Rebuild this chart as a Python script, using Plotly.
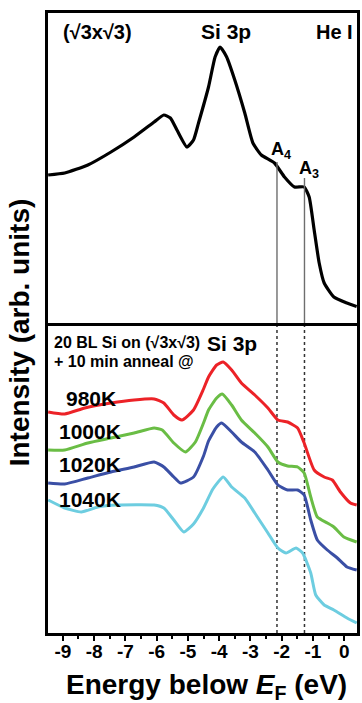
import plotly.graph_objects as go

# ---------------- data ----------------
# Top panel: clean (sqrt3 x sqrt3) spectrum, He I
top_E = [-9.47, -8.94, -8.20, -7.46, -6.72, -6.08, -5.77, -5.56, -5.35, -5.03,
         -4.82, -4.66, -4.34, -4.13, -3.97, -3.76, -3.50, -3.18, -2.92, -2.65,
         -2.23, -1.91, -1.59, -1.28, -1.12, -0.96, -0.80, -0.64, -0.33, 0.09, 0.40]
top_I = [14.8, 15.0, 15.8, 17.1, 18.6, 20.1, 20.8, 20.5, 19.3, 17.6,
         18.3, 20.0, 23.6, 26.6, 27.6, 26.6, 24.3, 21.0, 18.0, 16.8,
         16.0, 14.6, 13.6, 13.6, 12.6, 9.3, 6.0, 4.0, 2.6, 2.0, 1.65]

# Feature markers A4, A3
feat_names = ["A4", "A3"]
feat_E = [-2.15, -1.27]
feat_top = [16.1, 14.5]

# Bottom panel: 20 BL Si annealed at several temperatures
temps = ["980K", "1000K", "1020K", "1040K"]

E_980 = [-9.47, -8.94, -8.30, -7.46, -6.72, -6.08, -5.77, -5.45, -5.19, -4.82,
         -4.50, -4.34, -4.08, -3.87, -3.60, -3.29, -2.86, -2.44, -2.12, -1.81,
         -1.49, -1.28, -0.96, -0.64, -0.38, -0.12, 0.20, 0.40]
I_980 = [22.1, 21.9, 22.5, 23.0, 23.3, 23.4, 23.0, 21.8, 21.3, 22.3,
         24.4, 25.6, 26.8, 27.1, 26.3, 25.0, 23.8, 22.5, 21.3, 21.1,
         20.5, 19.0, 16.3, 15.6, 15.3, 14.1, 13.0, 12.8]

E_1000 = [-9.47, -8.94, -8.20, -7.46, -6.72, -6.08, -5.82, -5.45, -5.08, -4.76,
          -4.50, -4.34, -4.08, -3.90, -3.60, -3.29, -2.86, -2.44, -2.12, -1.81,
          -1.49, -1.28, -1.07, -0.86, -0.54, -0.33, -0.01, 0.40]
I_1000 = [18.3, 18.3, 19.0, 19.5, 20.0, 20.5, 20.3, 19.0, 18.1, 19.1,
          21.0, 22.3, 23.5, 23.9, 22.8, 21.3, 20.0, 18.6, 17.1, 16.7,
          16.6, 16.0, 13.6, 11.6, 11.0, 10.6, 9.6, 9.1]

E_1020 = [-9.47, -8.94, -8.20, -7.46, -6.72, -6.08, -5.77, -5.45, -5.24, -4.82,
          -4.50, -4.34, -4.08, -3.92, -3.60, -3.29, -2.86, -2.44, -2.12, -1.81,
          -1.49, -1.28, -1.07, -0.86, -0.54, -0.22, 0.09, 0.40]
I_1020 = [15.0, 14.9, 15.5, 16.1, 16.6, 17.1, 16.6, 15.6, 15.0, 15.6,
          17.7, 19.2, 20.6, 21.0, 20.1, 19.1, 18.1, 16.3, 14.8, 14.3,
          14.3, 13.8, 11.3, 9.3, 8.3, 7.5, 6.6, 6.3]

E_1040 = [-9.47, -8.94, -8.41, -7.88, -7.25, -6.08, -5.77, -5.45, -5.13, -4.82,
          -4.50, -4.20, -3.87, -3.60, -3.18, -2.86, -2.44, -2.12, -1.86,
          -1.54, -1.33, -1.07, -0.91, -0.64, -0.33, 0.09, 0.40]
I_1040 = [13.3, 12.5, 12.1, 12.6, 12.8, 12.8, 12.5, 11.3, 10.1, 10.9,
          12.5, 14.4, 15.6, 14.6, 13.5, 12.0, 10.0, 8.5, 8.0,
          8.5, 8.0, 6.0, 3.8, 2.8, 2.3, 1.5, 1.0]

x_ticks = [-9, -8, -7, -6, -5, -4, -3, -2, -1, 0]
x_tick_labels = ["-9", "-8", "-7", "-6", "-5", "-4", "-3", "-2", "-1", "0"]

# ---------------- styling ----------------
FONT = "Liberation Sans, Arial, Helvetica, sans-serif"
colors = ["#ec2227", "#6abd45", "#3a4fa5", "#6dcde0"]
W, H = 362, 703
ML, MR, MT, MB = 48, 2, 13, 70
PW, PH = W - ML - MR, H - MT - MB


def px(xp):
    return (xp - ML) / PW


def py(yp):
    return (H - MB - yp) / PH


fig = go.Figure()

# top spectrum
fig.add_trace(go.Scatter(x=top_E, y=top_I, mode="lines", xaxis="x2", yaxis="y2",
                         line=dict(color="black", width=3.2, shape="spline", smoothing=0.5),
                         showlegend=False, hoverinfo="skip"))
# feature lines in top panel
for e, t in zip(feat_E, feat_top):
    fig.add_trace(go.Scatter(x=[e, e], y=[t, 0], mode="lines", xaxis="x2", yaxis="y2",
                             line=dict(color="#6e6e6e", width=1.4),
                             showlegend=False, hoverinfo="skip"))
# dotted lines in bottom panel
for e in feat_E:
    fig.add_trace(go.Scatter(x=[e, e], y=[0, 31], mode="lines", xaxis="x", yaxis="y",
                             line=dict(color="#333333", width=1.5, dash="dot"),
                             showlegend=False, hoverinfo="skip"))

series = [(E_980, I_980), (E_1000, I_1000), (E_1020, I_1020), (E_1040, I_1040)]
for (e, i), c, name in zip(series, colors, temps):
    fig.add_trace(go.Scatter(x=e, y=i, mode="lines", xaxis="x", yaxis="y", name=name,
                             line=dict(color=c, width=3, shape="spline", smoothing=0.5),
                             showlegend=False, hoverinfo="skip"))

xr = [-9.475, 0.41]
fig.update_layout(
    width=W, height=H,
    margin=dict(l=ML, r=MR, t=MT, b=MB),
    paper_bgcolor="white", plot_bgcolor="white",
    font=dict(family=FONT, color="black"),
    xaxis=dict(domain=[0, 1], anchor="y", range=xr, showgrid=False, zeroline=False,
               showline=True, linecolor="black", linewidth=3, mirror=False,
               ticks="outside", ticklen=5, tickwidth=2, tickcolor="black",
               tickvals=x_ticks, ticktext=x_tick_labels, ticklabelstandoff=-6,
               tickfont=dict(family=FONT, size=19, color="black", weight="bold"),
               minor=dict(dtick=0.5, tick0=0, ticks="outside", ticklen=3, tickwidth=2,
                          tickcolor="black", showgrid=False)),
    yaxis=dict(domain=[0, 0.5], anchor="x", range=[0, 31], showgrid=False, zeroline=False,
               showline=True, linecolor="black", linewidth=2.6, mirror=True,
               ticks="", showticklabels=False),
    xaxis2=dict(domain=[0, 1], anchor="y2", range=xr, matches="x", showgrid=False,
                zeroline=False, showline=True, linecolor="black", linewidth=2.8,
                mirror=True, ticks="", showticklabels=False),
    yaxis2=dict(domain=[0.5, 1], anchor="x2", range=[0, 31], showgrid=False, zeroline=False,
                showline=True, linecolor="black", linewidth=2.6, mirror=True,
                ticks="", showticklabels=False),
)

ann = []


def add(text, x, y, size, xanchor="left", yanchor="middle", angle=0):
    ann.append(dict(text="<b>" + text + "</b>", x=px(x), y=py(y), xref="paper", yref="paper",
                    xanchor=xanchor, yanchor=yanchor, showarrow=False, textangle=angle,
                    font=dict(family=FONT, size=size, color="black")))


# top panel labels
add("(\u221a3x\u221a3)", 61, 32, 20)
add("Si 3p", 228, 32, 21, xanchor="center")
add("He I", 358, 32, 20, xanchor="right")
add("A<sub>4</sub>", 271, 151, 18)
add("A<sub>3</sub>", 299, 170, 18)

# bottom panel labels
add("20 BL Si on (\u221a3x\u221a3)", 52, 342, 16)
add("+ 10 min anneal @", 52, 361, 16)
add("Si 3p", 234, 343, 21, xanchor="center")
label_pos = [(64, 398), (57, 431), (57, 464), (57, 499)]
for t, (lx, ly) in zip(temps, label_pos):
    add(t, lx, ly, 21)

# axis titles
add("Intensity (arb. units)", 19, 332, 28, xanchor="center", yanchor="middle", angle=-90)
add("Energy below <i>E</i><sub>F</sub> (eV)", 208, 686, 28, xanchor="center")

fig.update_layout(annotations=ann)
fig.write_html("out.html")
